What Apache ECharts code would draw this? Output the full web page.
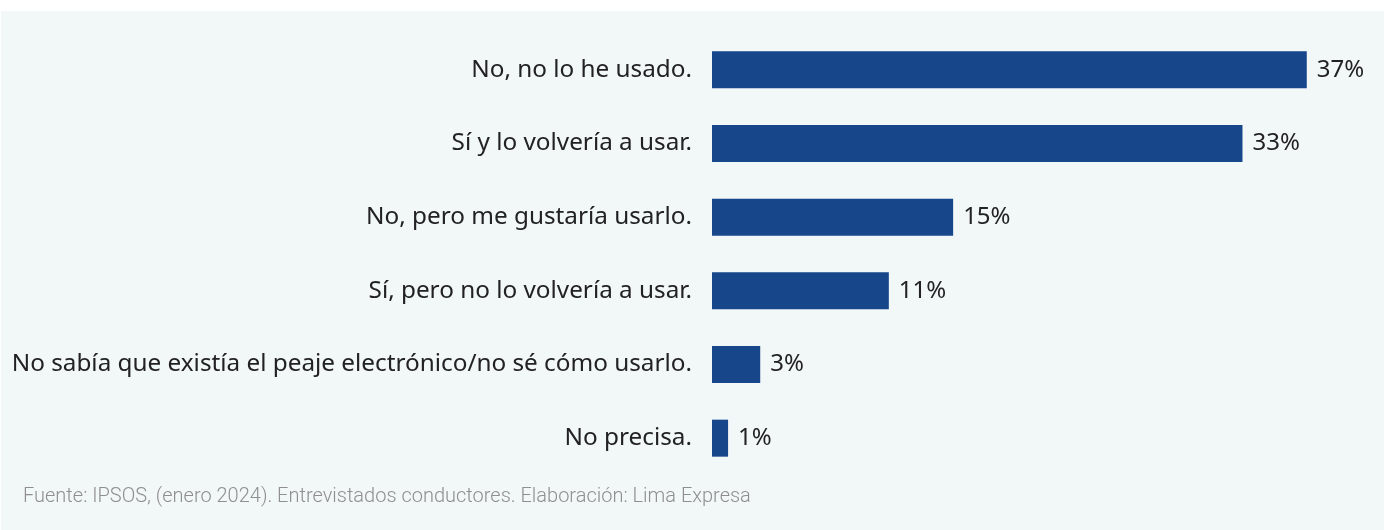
<!DOCTYPE html>
<html>
<head>
<meta charset="utf-8">
<script src="https://cdn.jsdelivr.net/npm/echarts@6/dist/echarts.min.js"></script>
<style>
  html, body { margin: 0; padding: 0; background: #ffffff; }
  #chart { position: absolute; left: 1px; top: 11px; width: 1383px; height: 519px; background: #f2f7f8; }
</style>
</head>
<body>
<div id="chart"></div>
<script>
// Survey answers (top to bottom) and their share of respondents, in %
const categories = [
  'No, no lo he usado.',
  'Sí y lo volvería a usar.',
  'No, pero me gustaría usarlo.',
  'Sí, pero no lo volvería a usar.',
  'No sabía que existía el peaje electrónico/no sé cómo usarlo.',
  'No precisa.'
];
const shares = [37, 33, 15, 11, 3, 1];
const sourceNote = 'Fuente: IPSOS, (enero 2024). Entrevistados conductores. Elaboración: Lima Expresa';

const chart = echarts.init(document.getElementById('chart'), null, { renderer: 'canvas' });
chart.setOption({
  backgroundColor: 'transparent',
  animation: false,
  grid: { left: 711, right: 29, top: 22, bottom: 55 },
  xAxis: { type: 'value', min: 0, max: 40, show: false },
  yAxis: {
    type: 'category',
    inverse: true,
    data: categories,
    axisLine: { show: false },
    axisTick: { show: false },
    axisLabel: {
      margin: 20,
      color: '#222222',
      fontSize: 24.3,
      fontFamily: 'Noto Sans'
    }
  },
  series: [{
    type: 'bar',
    data: shares,
    barWidth: 37,
    itemStyle: { color: '#17468a' },
    label: {
      show: true,
      position: 'right',
      distance: 10,
      formatter: '{c}%',
      color: '#222222',
      fontSize: 24,
      fontFamily: 'Noto Sans'
    }
  }],
  graphic: [{
    type: 'text',
    left: 22,
    top: 476,
    style: {
      text: sourceNote,
      fill: '#8f8f8f',
      fontSize: 20,
      fontWeight: 300,
      fontFamily: 'Roboto'
    }
  }]
});
</script>
</body>
</html>
